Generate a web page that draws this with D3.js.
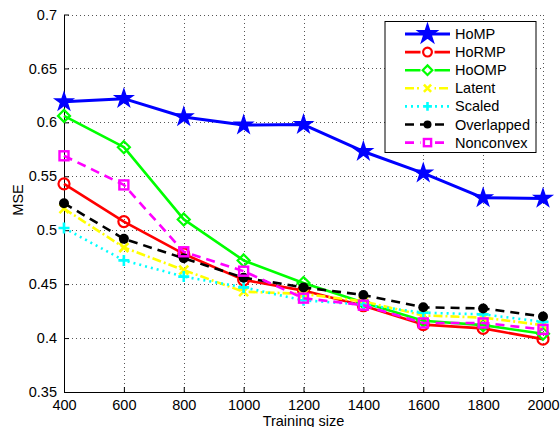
<!DOCTYPE html>
<html>
<head>
<meta charset="utf-8">
<script src="https://cdn.jsdelivr.net/npm/d3@7"></script>
<style>
  body { margin: 0; background: #fff; }
  text { font-family: "Liberation Sans", Arial, sans-serif; }
</style>
</head>
<body>
<div id="chart"></div>
<script>
var sizes = [400, 600, 800, 1000, 1200, 1400, 1600, 1800, 2000];
var homp       = [0.619, 0.622, 0.605, 0.5975, 0.598, 0.573, 0.553, 0.530, 0.5295];
var hormp      = [0.543, 0.508, 0.478, 0.454, 0.444, 0.430, 0.4125, 0.409, 0.399];
var homp_o     = [0.606, 0.577, 0.510, 0.472, 0.451, 0.433, 0.416, 0.412, 0.404];
var latent     = [0.520, 0.484, 0.463, 0.443, 0.441, 0.434, 0.421, 0.419, 0.412];
var scaled     = [0.502, 0.472, 0.457, 0.447, 0.435, 0.431, 0.4235, 0.422, 0.415];
var overlapped = [0.525, 0.492, 0.474, 0.456, 0.447, 0.440, 0.4285, 0.4275, 0.420];
var nonconvex  = [0.569, 0.542, 0.480, 0.462, 0.437, 0.4305, 0.414, 0.414, 0.408];
var seriesNames = ["HoMP", "HoRMP", "HoOMP", "Latent", "Scaled", "Overlapped", "Nonconvex"];
var yTicks = [0.35, 0.4, 0.45, 0.5, 0.55, 0.6, 0.65, 0.7];

function init() {
    var w = 560, h = 427;
    var left = 64, right = 543, top = 14.5, bottom = 392;

    var svg = d3.select("#chart").append("svg")
                .attr("width", w).attr("height", h);

    var x = d3.scaleLinear().domain([400, 2000]).range([left, right]);
    var y = d3.scaleLinear().domain([0.35, 0.7]).range([bottom, top]);

    // grid
    var grid = svg.append("g").attr("stroke", "#555").attr("stroke-width", 1)
                  .attr("stroke-dasharray", "1,3").attr("shape-rendering", "crispEdges");
    grid.selectAll("line.vx").data(sizes.slice(1)).enter().append("line")
        .attr("x1", function(d) { return Math.round(x(d)) + 0.5; })
        .attr("x2", function(d) { return Math.round(x(d)) + 0.5; })
        .attr("y1", top).attr("y2", bottom);
    grid.selectAll("line.hy").data(yTicks.slice(1)).enter().append("line")
        .attr("y1", function(d) { return Math.round(y(d)) + 0.5; })
        .attr("y2", function(d) { return Math.round(y(d)) + 0.5; })
        .attr("x1", left).attr("x2", right);

    // axes
    var xAxis = d3.axisBottom(x).tickValues(sizes).tickSizeInner(-5).tickSizeOuter(0).tickPadding(8)
                  .tickFormat(d3.format("d"));
    var yAxis = d3.axisLeft(y).tickValues(yTicks).tickSizeInner(-5).tickSizeOuter(0).tickPadding(7)
                  .tickFormat(function(d) { return String(+d.toFixed(2)); });
    var gx = svg.append("g").attr("transform", "translate(0," + bottom + ")").call(xAxis);
    var gy = svg.append("g").attr("transform", "translate(" + left + ",0)").call(yAxis);
    [gx, gy].forEach(function(g) {
        g.select(".domain").attr("stroke", "#000");
        g.selectAll(".tick line").attr("stroke", "#000");
        g.selectAll("text").attr("fill", "#000").attr("font-size", "14.5px")
         .attr("font-family", "Liberation Sans, Arial, sans-serif");
    });

    svg.append("text").attr("x", (left + right) / 2).attr("y", 426)
       .attr("text-anchor", "middle").attr("font-size", "14.5px").text("Training size");
    svg.append("text").attr("transform", "translate(23,200) rotate(-90)")
       .attr("text-anchor", "middle").attr("font-size", "14.5px").text("MSE");

    var styles = [
        { vals: homp,       color: "#0000ff", dash: null,      width: 3,   mark: "star" },
        { vals: hormp,      color: "#ff0000", dash: null,      width: 2.6, mark: "circle" },
        { vals: homp_o,     color: "#00ff00", dash: null,      width: 2.6, mark: "diamond" },
        { vals: latent,     color: "#ffff00", dash: "9,3,2,3", width: 2.6, mark: "x" },
        { vals: scaled,     color: "#00ffff", dash: "2,4",     width: 2.6, mark: "plus" },
        { vals: overlapped, color: "#000000", dash: "9,6",     width: 2.6, mark: "dot" },
        { vals: nonconvex,  color: "#ff00ff", dash: "9,6",     width: 2.6, mark: "square" }
    ];

    var line = d3.line().x(function(d) { return x(d[0]); }).y(function(d) { return y(d[1]); });

    function drawMarker(g, type, color, scale) {
        scale = scale || 1;
        if (type == "star") {
            g.append("path").attr("d", d3.symbol().type(d3.symbolStar).size(95 * scale * scale)())
             .attr("fill", color).attr("stroke", color).attr("stroke-width", 1.5);
        } else if (type == "circle") {
            g.append("circle").attr("r", 5.5 * scale).attr("fill", "none")
             .attr("stroke", color).attr("stroke-width", 2.2);
        } else if (type == "diamond") {
            var s = 6 * scale;
            g.append("path").attr("d", "M0," + (-s) + "L" + s + ",0L0," + s + "L" + (-s) + ",0Z")
             .attr("fill", "none").attr("stroke", color).attr("stroke-width", 2.2);
        } else if (type == "x") {
            var s = 4.5 * scale;
            g.append("path").attr("d", "M" + (-s) + "," + (-s) + "L" + s + "," + s + "M" + s + "," + (-s) + "L" + (-s) + "," + s)
             .attr("stroke", color).attr("stroke-width", 2.6);
        } else if (type == "plus") {
            var s = 5.5 * scale;
            g.append("path").attr("d", "M" + (-s) + ",0L" + s + ",0M0," + (-s) + "L0," + s)
             .attr("stroke", color).attr("stroke-width", 2.6);
        } else if (type == "dot") {
            g.append("circle").attr("r", 5 * scale).attr("fill", color);
        } else if (type == "square") {
            var s = 4.5 * scale;
            g.append("rect").attr("x", -s).attr("y", -s).attr("width", 2 * s).attr("height", 2 * s)
             .attr("fill", "none").attr("stroke", color).attr("stroke-width", 2.4);
        }
    }

    styles.forEach(function(st) {
        var pts = sizes.map(function(s, i) { return [s, st.vals[i]]; });
        svg.append("path").datum(pts).attr("d", line).attr("fill", "none")
           .attr("stroke", st.color).attr("stroke-width", st.width)
           .attr("stroke-dasharray", st.dash).attr("stroke-linejoin", "round");
        pts.forEach(function(p) {
            var g = svg.append("g").attr("transform", "translate(" + x(p[0]) + "," + y(p[1]) + ")");
            drawMarker(g, st.mark, st.color);
        });
    });

    // legend
    var lg = svg.append("g").attr("transform", "translate(385,21.5)");
    lg.append("rect").attr("width", 151).attr("height", 131)
      .attr("fill", "#fff").attr("stroke", "#000").attr("stroke-width", 1);
    styles.forEach(function(st, i) {
        var yy = 12.5 + i * 18.1;
        var row = lg.append("g").attr("transform", "translate(0," + yy + ")");
        row.append("line").attr("x1", 20).attr("x2", 65).attr("y1", 0).attr("y2", 0)
           .attr("stroke", st.color).attr("stroke-width", st.width)
           .attr("stroke-dasharray", st.dash);
        var mg = row.append("g").attr("transform", "translate(42.5,0)");
        mg.append("rect").attr("x", -7).attr("y", -7).attr("width", 14).attr("height", 14)
          .attr("fill", st.mark == "star" || st.mark == "dot" ? "none" : "#fff");
        drawMarker(mg, st.mark, st.color, st.mark == "star" ? 1.1 : 0.8);
        row.append("text").attr("x", 70).attr("y", 5).attr("font-size", "14.5px")
           .text(seriesNames[i]);
    });
}
window.onload = init;
</script>
</body>
</html>
